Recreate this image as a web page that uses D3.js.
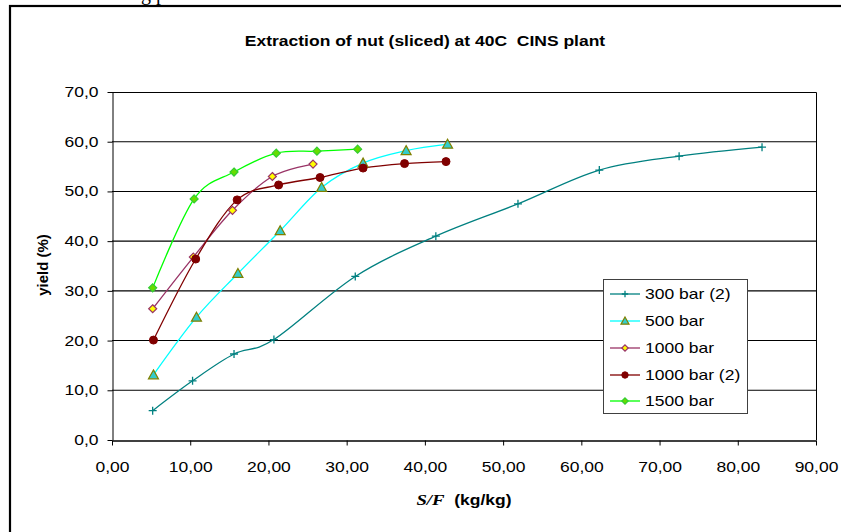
<!DOCTYPE html>
<html><head><meta charset="utf-8">
<script src="https://cdn.jsdelivr.net/npm/d3@7"></script>
<style>html,body{margin:0;padding:0;background:#fff;overflow:hidden}</style>
</head><body>
<svg id="chart" width="841" height="532"></svg>
<script>
const seriesNames = ["300 bar (2)", "500 bar", "1000 bar", "1000 bar (2)", "1500 bar"];
const x300 = [5.2, 10.3, 15.6, 20.7, 31.1, 41.4, 51.9, 62.3, 72.5, 83.1];
const y300 = [5.9, 11.9, 17.3, 20.2, 32.9, 41.0, 47.5, 54.3, 57.1, 58.9];
const x500 = [5.3, 10.8, 16.1, 21.5, 26.8, 32.1, 37.6, 42.9];
const y500 = [13.1, 24.7, 33.5, 42.1, 50.8, 55.7, 58.2, 59.5];
const x1000 = [5.2, 10.4, 15.4, 20.5, 25.7];
const y1000 = [26.4, 36.8, 46.2, 53.0, 55.5];
const x1000b = [5.3, 10.7, 16.0, 21.3, 26.6, 32.1, 37.4, 42.7];
const y1000b = [20.1, 36.4, 48.3, 51.3, 52.8, 54.7, 55.6, 56.0];
const x1500 = [5.2, 10.5, 15.6, 21.0, 26.2, 31.4];
const y1500 = [30.6, 48.5, 53.9, 57.7, 58.1, 58.5];
const xTicks = [0, 10, 20, 30, 40, 50, 60, 70, 80, 90];
const yTicks = [0, 10, 20, 30, 40, 50, 60, 70];

const svg = d3.select("#chart");
const L = 112, R = 816, T = 92, B = 440;
const SX = 1.25; // horizontal stretch of the reference's lettering
const SANS = "Liberation Sans, Arial, sans-serif";
const x = d3.scaleLinear().domain([0, 90]).range([L, R]);
const y = d3.scaleLinear().domain([0, 70]).range([B, T]);
const fmtX = v => d3.format(".2f")(v).replace(".", ",");
const fmtY = v => d3.format(".1f")(v).replace(".", ",");

// outer frame
svg.append("rect").attr("x", 10).attr("y", 6).attr("width", 900).attr("height", 600)
  .attr("fill", "none").attr("stroke", "#000").attr("stroke-width", 2.2);

// clipped caption fragment above frame (as in the reference)
svg.append("text").attr("x", 141).attr("y", 0).attr("font-family", "Liberation Serif, serif")
  .attr("font-size", 20).text("g p");

// title
svg.append("text").attr("transform", `translate(425,46) scale(${SX},1)`).attr("text-anchor", "middle")
  .attr("font-family", SANS).attr("font-weight", "bold").style("white-space", "pre")
  .attr("font-size", 14).text("Extraction of nut (sliced) at 40C  CINS plant");

// gridlines
svg.append("g").selectAll("line").data(yTicks.filter(d => d > 0 && d < 70)).join("line")
  .attr("x1", L).attr("x2", R).attr("y1", d => y(d)).attr("y2", d => y(d))
  .attr("stroke", "#000").attr("stroke-width", 1.1);

// plot border top/right
svg.append("path").attr("d", `M${L},${T + 0.5}H${R + 0.5}V${B}`).attr("fill", "none").attr("stroke", "#000");

// axes
const yAxis = d3.axisLeft(y).tickValues(yTicks).tickFormat(fmtY).tickSize(5).tickSizeOuter(0);
const gy = svg.append("g").attr("transform", `translate(${L + 0.5},0)`).call(yAxis);
gy.selectAll("text").attr("font-family", SANS).attr("font-size", 14).attr("fill", "#000")
  .attr("x", -14 / SX).attr("transform", `scale(${SX},1)`);
gy.selectAll("line,path").attr("stroke", "#000");

const xAxis = d3.axisBottom(x).tickValues(xTicks).tickFormat(fmtX).tickSize(5).tickSizeOuter(0);
const gx = svg.append("g").attr("transform", `translate(0,${B + 0.5})`).call(xAxis);
gx.selectAll("text").attr("font-family", SANS).attr("font-size", 14).attr("fill", "#000")
  .attr("y", 0).attr("dy", 32).attr("transform", `scale(${SX},1)`);
gx.selectAll("line,path").attr("stroke", "#000");
gx.select("path.domain").attr("stroke-width", 1.5);

// axis titles
svg.append("text").attr("transform", "translate(48,265) rotate(-90)").attr("text-anchor", "middle")
  .attr("font-family", SANS).attr("font-weight", "bold").attr("font-size", 15)
  .text("yield (%)");
const xt = svg.append("text").attr("transform", `translate(464,505) scale(${SX},1)`).attr("text-anchor", "middle").attr("font-size", 14);
xt.append("tspan").attr("font-family", "Liberation Serif, serif").attr("font-style", "italic").attr("font-weight", "bold").attr("font-size", 15).text("S/F");
xt.append("tspan").attr("font-family", SANS).attr("font-weight", "bold").text("\u00a0 (kg/kg)");

const series = [
  {name: seriesNames[0], xs: x300, ys: y300, line: "#008080", marker: "plus", fill: "none", stroke: "#008080"},
  {name: seriesNames[1], xs: x500, ys: y500, line: "#00FFFF", marker: "tri", fill: "#33CCCC", stroke: "#808000"},
  {name: seriesNames[2], xs: x1000, ys: y1000, line: "#993366", marker: "diamond", fill: "#FFFF00", stroke: "#993366"},
  {name: seriesNames[3], xs: x1000b, ys: y1000b, line: "#800000", marker: "circle", fill: "#800000", stroke: "#800000"},
  {name: seriesNames[4], xs: x1500, ys: y1500, line: "#00FF00", marker: "diamond", fill: "#66DD00", stroke: "#33CC33"}
];

function drawMarker(g, type, cx, cy, fill, stroke, s) {
  s = s || 1;
  if (type === "plus") {
    g.append("path").attr("d", `M${cx - 4 * s},${cy}H${cx + 4 * s}M${cx},${cy - 4 * s}V${cy + 4 * s}`)
      .attr("stroke", stroke).attr("stroke-width", 1.3);
  } else if (type === "tri") {
    g.append("path").attr("d", `M${cx},${cy - 5 * s}L${cx + 5 * s},${cy + 4 * s}L${cx - 5 * s},${cy + 4 * s}Z`)
      .attr("fill", fill).attr("stroke", stroke).attr("stroke-width", 1.2);
  } else if (type === "diamond") {
    g.append("path").attr("d", `M${cx},${cy - 4 * s}L${cx + 4 * s},${cy}L${cx},${cy + 4 * s}L${cx - 4 * s},${cy}Z`)
      .attr("fill", fill).attr("stroke", stroke).attr("stroke-width", 1.2);
  } else if (type === "circle") {
    g.append("circle").attr("cx", cx).attr("cy", cy).attr("r", 4 * s).attr("fill", fill).attr("stroke", stroke);
  }
}

const lineGen = d3.line().x(d => x(d[0])).y(d => y(d[1])).curve(d3.curveCardinal.tension(0));
const plot = svg.append("g");
series.forEach(s => {
  const pts = s.xs.map((v, i) => [v, s.ys[i]]);
  plot.append("path").datum(pts).attr("d", lineGen).attr("fill", "none").attr("stroke", s.line).attr("stroke-width", 1.3);
});
series.forEach(s => {
  const g = plot.append("g");
  s.xs.forEach((v, i) => drawMarker(g, s.marker, x(v), y(s.ys[i]), s.fill, s.stroke));
});

// legend
const lg = svg.append("g");
lg.append("rect").attr("x", 603.5).attr("y", 279.5).attr("width", 144).attr("height", 134)
  .attr("fill", "#fff").attr("stroke", "#404040").attr("stroke-width", 1);
const rowY = [294, 321, 348, 375, 401];
series.forEach((s, i) => {
  const yy = rowY[i];
  lg.append("line").attr("x1", 610).attr("x2", 640).attr("y1", yy).attr("y2", yy).attr("stroke", s.line).attr("stroke-width", 1.3);
  drawMarker(lg, s.marker, 625, yy, s.fill, s.stroke, 0.8);
  lg.append("text").attr("transform", `translate(645,${yy + 5}) scale(${SX},1)`).attr("font-family", SANS)
    .attr("font-size", 14).text(s.name);
});
</script>
</body></html>
